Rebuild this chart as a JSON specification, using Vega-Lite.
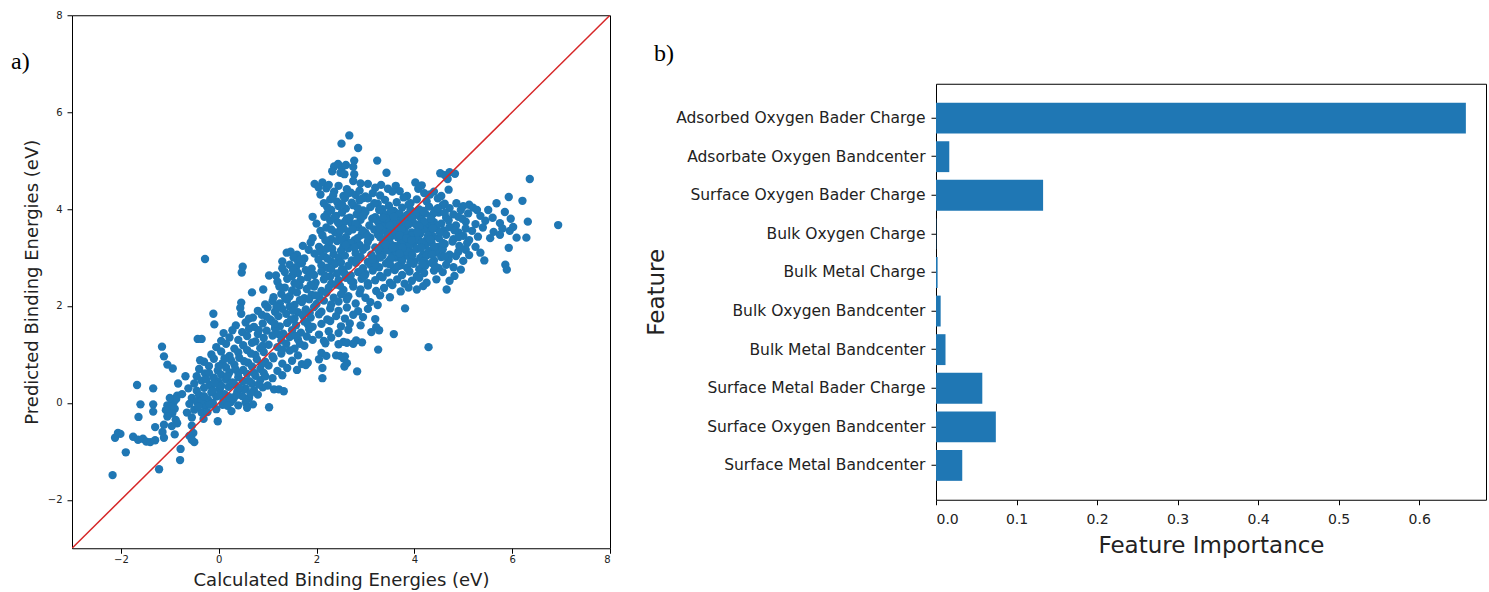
{
  "$schema": "https://vega.github.io/schema/vega-lite/v6.json",
  "padding": {"left": 10, "top": 9, "right": 0, "bottom": 0},
  "spacing": 33,
  "center": true,
  "config": {
    "font": "DejaVu Sans",
    "view": {"stroke": "#000", "strokeWidth": 1},
    "axis": {
      "domain": false,
      "grid": false,
      "tickColor": "#000",
      "tickWidth": 1,
      "labelColor": "#222",
      "titleColor": "#222",
      "titleFontWeight": "normal",
      "labelFont": "DejaVu Sans",
      "titleFont": "DejaVu Sans"
    },
    "title": {"font": "Liberation Serif", "fontSize": 24, "fontWeight": "normal", "color": "#000"}
  },
  "datasets": {
    "pts": [
      {"x":2.67,"y":5.52},{"x":2.51,"y":5.35},{"x":2.85,"y":5.26},{"x":2.77,"y":5.00},{"x":3.24,"y":5.00},
      {"x":2.36,"y":4.88},{"x":2.44,"y":4.93},{"x":2.52,"y":4.86},{"x":2.60,"y":4.91},{"x":2.75,"y":4.87},
      {"x":2.32,"y":4.78},{"x":2.49,"y":4.75},{"x":2.57,"y":4.72},{"x":2.77,"y":4.72},{"x":3.43,"y":4.75},{"x":4.53,"y":4.74},{"x":4.62,"y":4.70},{"x":4.72,"y":4.76},{"x":4.83,"y":4.73},
      {"x":2.75,"y":4.58},{"x":6.36,"y":4.62},{"x":4.68,"y":4.62},
      {"x":1.96,"y":4.52},{"x":2.04,"y":4.45},{"x":2.12,"y":4.55},{"x":2.20,"y":4.43},{"x":2.25,"y":4.50},{"x":2.45,"y":4.48},{"x":2.62,"y":4.41},{"x":2.90,"y":4.53},{"x":3.05,"y":4.52},{"x":3.20,"y":4.44},{"x":3.32,"y":4.50},{"x":3.46,"y":4.42},{"x":3.62,"y":4.48},{"x":4.02,"y":4.55},{"x":4.08,"y":4.42},{"x":4.15,"y":4.49},{"x":4.70,"y":4.40},
      {"x":2.08,"y":4.30},{"x":2.36,"y":4.36},{"x":2.55,"y":4.27},{"x":2.70,"y":4.34},{"x":2.80,"y":4.29},{"x":2.88,"y":4.38},{"x":3.00,"y":4.26},{"x":3.15,"y":4.33},{"x":3.30,"y":4.28},{"x":3.55,"y":4.36},{"x":3.70,"y":4.37},{"x":3.85,"y":4.27},{"x":4.20,"y":4.33},{"x":4.32,"y":4.30},{"x":4.40,"y":4.36},{"x":4.55,"y":4.27},{"x":5.93,"y":4.25},
      {"x":2.15,"y":4.12},{"x":2.28,"y":4.20},{"x":2.42,"y":4.15},{"x":2.58,"y":4.23},{"x":2.72,"y":4.13},{"x":2.88,"y":4.18},{"x":3.05,"y":4.22},{"x":3.25,"y":4.11},{"x":3.40,"y":4.19},{"x":3.64,"y":4.14},{"x":3.78,"y":4.24},{"x":3.92,"y":4.12},{"x":4.05,"y":4.20},{"x":4.25,"y":4.16},{"x":4.48,"y":4.22},{"x":4.62,"y":4.11},{"x":5.12,"y":4.09},{"x":5.68,"y":4.12},{"x":6.21,"y":4.17},
      {"x":2.30,"y":3.98},{"x":2.45,"y":4.06},{"x":2.60,"y":4.01},{"x":2.75,"y":4.08},{"x":2.95,"y":3.97},{"x":3.10,"y":4.04},{"x":3.35,"y":4.00},{"x":3.48,"y":4.07},{"x":3.58,"y":3.96},{"x":3.75,"y":4.03},{"x":3.88,"y":4.09},{"x":4.10,"y":3.99},{"x":4.30,"y":4.05},{"x":4.42,"y":3.97},{"x":4.58,"y":4.08},{"x":4.72,"y":4.02},{"x":4.95,"y":3.98},{"x":5.00,"y":4.06},{"x":5.20,"y":4.03},{"x":5.28,"y":3.98},{"x":5.51,"y":3.98},{"x":5.85,"y":3.94},
      {"x":1.92,"y":3.84},{"x":2.22,"y":3.91},{"x":2.40,"y":3.86},{"x":2.52,"y":3.93},{"x":2.68,"y":3.82},{"x":2.82,"y":3.89},{"x":3.00,"y":3.94},{"x":3.20,"y":3.83},{"x":3.38,"y":3.90},{"x":3.50,"y":3.85},{"x":3.62,"y":3.92},{"x":3.72,"y":3.81},{"x":3.85,"y":3.88},{"x":3.98,"y":3.94},{"x":4.12,"y":3.84},{"x":4.22,"y":3.91},{"x":4.35,"y":3.86},{"x":4.50,"y":3.93},{"x":4.65,"y":3.82},{"x":4.80,"y":3.89},{"x":4.90,"y":3.84},{"x":5.10,"y":3.91},{"x":5.35,"y":3.86},{"x":5.60,"y":3.82},{"x":5.97,"y":3.80},
      {"x":2.00,"y":3.70},{"x":2.28,"y":3.76},{"x":2.48,"y":3.67},{"x":2.58,"y":3.74},{"x":2.72,"y":3.69},{"x":2.90,"y":3.78},{"x":3.08,"y":3.66},{"x":3.30,"y":3.73},{"x":3.42,"y":3.68},{"x":3.55,"y":3.77},{"x":3.66,"y":3.71},{"x":3.78,"y":3.66},{"x":3.90,"y":3.75},{"x":4.02,"y":3.69},{"x":4.15,"y":3.78},{"x":4.28,"y":3.67},{"x":4.40,"y":3.73},{"x":4.55,"y":3.70},{"x":4.70,"y":3.77},{"x":4.85,"y":3.66},{"x":5.05,"y":3.74},{"x":5.25,"y":3.69},{"x":5.45,"y":3.76},{"x":5.75,"y":3.71},{"x":6.32,"y":3.74},{"x":6.94,"y":3.67},
      {"x":2.08,"y":3.55},{"x":2.20,"y":3.62},{"x":2.38,"y":3.52},{"x":2.55,"y":3.60},{"x":2.65,"y":3.54},{"x":2.85,"y":3.63},{"x":3.00,"y":3.51},{"x":3.18,"y":3.58},{"x":3.35,"y":3.64},{"x":3.45,"y":3.53},{"x":3.58,"y":3.60},{"x":3.70,"y":3.56},{"x":3.82,"y":3.63},{"x":3.95,"y":3.52},{"x":4.08,"y":3.59},{"x":4.20,"y":3.65},{"x":4.32,"y":3.54},{"x":4.45,"y":3.61},{"x":4.60,"y":3.56},{"x":4.72,"y":3.63},{"x":4.90,"y":3.52},{"x":5.05,"y":3.60},{"x":5.18,"y":3.55},{"x":5.40,"y":3.62},{"x":5.62,"y":3.53},{"x":5.80,"y":3.60},{"x":5.95,"y":3.55},{"x":6.02,"y":3.63},
      {"x":1.92,"y":3.40},{"x":2.12,"y":3.46},{"x":2.30,"y":3.38},{"x":2.45,"y":3.49},{"x":2.60,"y":3.42},{"x":2.78,"y":3.36},{"x":2.92,"y":3.47},{"x":3.10,"y":3.41},{"x":3.25,"y":3.48},{"x":3.40,"y":3.37},{"x":3.52,"y":3.44},{"x":3.62,"y":3.50},{"x":3.75,"y":3.39},{"x":3.88,"y":3.46},{"x":4.00,"y":3.41},{"x":4.12,"y":3.49},{"x":4.25,"y":3.36},{"x":4.38,"y":3.44},{"x":4.50,"y":3.40},{"x":4.65,"y":3.47},{"x":4.80,"y":3.38},{"x":5.00,"y":3.45},{"x":5.12,"y":3.36},{"x":5.30,"y":3.43},{"x":5.55,"y":3.40},{"x":5.75,"y":3.47},{"x":6.09,"y":3.41},{"x":6.29,"y":3.41},
      {"x":1.72,"y":3.24},{"x":1.88,"y":3.31},{"x":2.05,"y":3.22},{"x":2.25,"y":3.29},{"x":2.42,"y":3.34},{"x":2.55,"y":3.23},{"x":2.70,"y":3.30},{"x":2.88,"y":3.26},{"x":3.05,"y":3.33},{"x":3.20,"y":3.21},{"x":3.35,"y":3.28},{"x":3.48,"y":3.34},{"x":3.60,"y":3.24},{"x":3.72,"y":3.31},{"x":3.85,"y":3.22},{"x":3.98,"y":3.29},{"x":4.10,"y":3.35},{"x":4.22,"y":3.25},{"x":4.35,"y":3.31},{"x":4.48,"y":3.22},{"x":4.62,"y":3.28},{"x":4.78,"y":3.33},{"x":4.92,"y":3.24},{"x":5.08,"y":3.30},{"x":5.25,"y":3.22},{"x":5.93,"y":3.20},
      {"x":1.39,"y":3.10},{"x":1.47,"y":3.12},{"x":1.60,"y":3.06},{"x":1.84,"y":3.16},{"x":1.96,"y":3.08},{"x":2.08,"y":3.12},{"x":2.20,"y":3.18},{"x":2.35,"y":3.07},{"x":2.50,"y":3.14},{"x":2.65,"y":3.19},{"x":2.80,"y":3.09},{"x":2.95,"y":3.16},{"x":3.12,"y":3.06},{"x":3.28,"y":3.13},{"x":3.40,"y":3.19},{"x":3.55,"y":3.08},{"x":3.68,"y":3.15},{"x":3.80,"y":3.06},{"x":3.92,"y":3.12},{"x":4.05,"y":3.18},{"x":4.18,"y":3.07},{"x":4.30,"y":3.14},{"x":4.45,"y":3.10},{"x":4.58,"y":3.17},{"x":4.72,"y":3.06},{"x":4.90,"y":3.12},{"x":5.05,"y":3.16},{"x":5.12,"y":3.05},{"x":5.35,"y":3.10},
      {"x":-0.28,"y":2.97},{"x":1.53,"y":3.00},{"x":1.62,"y":2.93},{"x":1.75,"y":2.98},{"x":2.04,"y":2.96},{"x":2.15,"y":3.03},{"x":2.30,"y":2.92},{"x":2.45,"y":2.99},{"x":2.58,"y":3.04},{"x":2.72,"y":2.94},{"x":2.90,"y":3.01},{"x":3.05,"y":2.91},{"x":3.22,"y":2.98},{"x":3.35,"y":3.04},{"x":3.48,"y":2.93},{"x":3.62,"y":3.00},{"x":3.75,"y":2.95},{"x":3.88,"y":3.03},{"x":4.00,"y":2.92},{"x":4.12,"y":2.99},{"x":4.25,"y":3.04},{"x":4.40,"y":2.94},{"x":4.55,"y":3.01},{"x":4.70,"y":2.96},{"x":4.85,"y":3.03},{"x":5.00,"y":2.93},{"x":5.43,"y":2.94},
      {"x":0.49,"y":2.81},{"x":1.30,"y":2.78},{"x":1.45,"y":2.85},{"x":1.58,"y":2.80},{"x":1.70,"y":2.88},{"x":1.90,"y":2.77},{"x":2.10,"y":2.84},{"x":2.22,"y":2.79},{"x":2.38,"y":2.87},{"x":2.52,"y":2.76},{"x":2.65,"y":2.83},{"x":2.80,"y":2.89},{"x":2.95,"y":2.78},{"x":3.10,"y":2.85},{"x":3.28,"y":2.80},{"x":3.42,"y":2.88},{"x":3.58,"y":2.77},{"x":3.72,"y":2.84},{"x":3.85,"y":2.79},{"x":3.98,"y":2.87},{"x":4.10,"y":2.76},{"x":4.22,"y":2.83},{"x":4.35,"y":2.89},{"x":4.50,"y":2.78},{"x":4.65,"y":2.85},{"x":4.80,"y":2.80},{"x":5.86,"y":2.85},{"x":5.89,"y":2.75},
      {"x":0.47,"y":2.69},{"x":1.03,"y":2.63},{"x":1.17,"y":2.63},{"x":1.35,"y":2.70},{"x":1.50,"y":2.62},{"x":1.62,"y":2.68},{"x":1.78,"y":2.74},{"x":1.95,"y":2.64},{"x":2.10,"y":2.71},{"x":2.28,"y":2.61},{"x":2.42,"y":2.67},{"x":2.55,"y":2.73},{"x":2.70,"y":2.63},{"x":2.85,"y":2.70},{"x":3.00,"y":2.66},{"x":3.15,"y":2.73},{"x":3.30,"y":2.62},{"x":3.45,"y":2.69},{"x":3.60,"y":2.74},{"x":3.75,"y":2.64},{"x":3.90,"y":2.71},{"x":4.05,"y":2.62},{"x":4.20,"y":2.68},{"x":4.40,"y":2.73},{"x":4.95,"y":2.75},
      {"x":1.20,"y":2.50},{"x":1.40,"y":2.56},{"x":1.55,"y":2.47},{"x":1.68,"y":2.54},{"x":1.82,"y":2.59},{"x":1.98,"y":2.48},{"x":2.15,"y":2.55},{"x":2.30,"y":2.46},{"x":2.45,"y":2.53},{"x":2.60,"y":2.58},{"x":2.75,"y":2.49},{"x":2.92,"y":2.56},{"x":3.05,"y":2.47},{"x":3.20,"y":2.53},{"x":3.35,"y":2.59},{"x":3.50,"y":2.48},{"x":3.65,"y":2.55},{"x":3.80,"y":2.46},{"x":3.95,"y":2.52},{"x":4.10,"y":2.58},{"x":4.25,"y":2.48},{"x":4.45,"y":2.55},{"x":4.72,"y":2.52},
      {"x":0.68,"y":2.28},{"x":0.91,"y":2.34},{"x":1.35,"y":2.38},{"x":1.50,"y":2.32},{"x":1.65,"y":2.42},{"x":1.80,"y":2.35},{"x":1.95,"y":2.40},{"x":2.10,"y":2.31},{"x":2.25,"y":2.38},{"x":2.40,"y":2.44},{"x":2.55,"y":2.33},{"x":2.75,"y":2.40},{"x":2.90,"y":2.34},{"x":3.05,"y":2.42},{"x":3.22,"y":2.31},{"x":3.38,"y":2.37},{"x":3.55,"y":2.43},{"x":3.72,"y":2.30},{"x":3.88,"y":2.38},{"x":4.05,"y":2.34},{"x":4.18,"y":2.41},{"x":4.66,"y":2.34},
      {"x":1.12,"y":2.18},{"x":1.28,"y":2.25},{"x":1.45,"y":2.20},{"x":1.60,"y":2.28},{"x":1.75,"y":2.16},{"x":1.90,"y":2.23},{"x":2.05,"y":2.19},{"x":2.20,"y":2.27},{"x":2.35,"y":2.17},{"x":2.50,"y":2.24},{"x":2.65,"y":2.20},{"x":2.88,"y":2.26},{"x":3.00,"y":2.17},{"x":3.30,"y":2.22},{"x":3.50,"y":2.18},
      {"x":0.46,"y":2.07},{"x":0.95,"y":2.03},{"x":1.10,"y":2.10},{"x":1.25,"y":2.05},{"x":1.40,"y":2.13},{"x":1.55,"y":2.02},{"x":1.70,"y":2.08},{"x":1.85,"y":2.14},{"x":2.00,"y":2.04},{"x":2.15,"y":2.11},{"x":2.30,"y":2.03},{"x":2.45,"y":2.09},{"x":2.62,"y":2.14},{"x":2.80,"y":2.05},{"x":3.10,"y":2.08},{"x":3.25,"y":2.02},
      {"x":0.44,"y":1.96},{"x":0.80,"y":1.90},{"x":1.00,"y":1.97},{"x":1.15,"y":1.88},{"x":1.30,"y":1.94},{"x":1.45,"y":1.99},{"x":1.62,"y":1.87},{"x":1.78,"y":1.93},{"x":1.95,"y":1.98},{"x":2.10,"y":1.88},{"x":2.28,"y":1.95},{"x":2.45,"y":1.90},{"x":2.62,"y":1.97},{"x":2.85,"y":1.89},{"x":3.05,"y":1.94},{"x":3.81,"y":1.95},
      {"x":-0.11,"y":1.84},{"x":0.46,"y":1.84},{"x":0.70,"y":1.76},{"x":0.88,"y":1.82},{"x":1.05,"y":1.72},{"x":1.22,"y":1.79},{"x":1.38,"y":1.84},{"x":1.55,"y":1.74},{"x":1.72,"y":1.81},{"x":1.88,"y":1.76},{"x":2.05,"y":1.83},{"x":2.22,"y":1.72},{"x":2.40,"y":1.79},{"x":2.58,"y":1.74},{"x":2.75,"y":1.82},{"x":2.95,"y":1.77},{"x":3.20,"y":1.73},
      {"x":-0.09,"y":1.62},{"x":0.35,"y":1.60},{"x":0.55,"y":1.66},{"x":0.72,"y":1.57},{"x":0.90,"y":1.64},{"x":1.08,"y":1.69},{"x":1.25,"y":1.58},{"x":1.40,"y":1.65},{"x":1.58,"y":1.60},{"x":1.75,"y":1.68},{"x":1.92,"y":1.57},{"x":2.10,"y":1.63},{"x":2.28,"y":1.69},{"x":2.50,"y":1.58},{"x":2.68,"y":1.64},{"x":2.90,"y":1.60},{"x":3.22,"y":1.56},
      {"x":0.10,"y":1.44},{"x":0.28,"y":1.50},{"x":0.48,"y":1.46},{"x":0.62,"y":1.53},{"x":0.80,"y":1.42},{"x":0.98,"y":1.49},{"x":1.15,"y":1.54},{"x":1.32,"y":1.43},{"x":1.50,"y":1.50},{"x":1.68,"y":1.45},{"x":1.85,"y":1.52},{"x":2.05,"y":1.41},{"x":2.25,"y":1.48},{"x":2.45,"y":1.44},{"x":2.65,"y":1.51},{"x":3.12,"y":1.46},{"x":3.28,"y":1.50},{"x":3.58,"y":1.42},
      {"x":-0.43,"y":1.32},{"x":-0.35,"y":1.32},{"x":0.05,"y":1.28},{"x":0.22,"y":1.35},{"x":0.40,"y":1.30},{"x":0.58,"y":1.38},{"x":0.75,"y":1.27},{"x":0.92,"y":1.34},{"x":1.10,"y":1.39},{"x":1.28,"y":1.29},{"x":1.45,"y":1.36},{"x":1.62,"y":1.31},{"x":1.80,"y":1.37},{"x":2.15,"y":1.28},{"x":2.30,"y":1.35},{"x":2.55,"y":1.26},{"x":2.81,"y":1.29},{"x":2.93,"y":1.25},
      {"x":-1.16,"y":1.16},{"x":-0.05,"y":1.15},{"x":0.15,"y":1.22},{"x":0.32,"y":1.12},{"x":0.50,"y":1.19},{"x":0.68,"y":1.24},{"x":0.85,"y":1.13},{"x":1.02,"y":1.20},{"x":1.20,"y":1.15},{"x":1.38,"y":1.22},{"x":1.55,"y":1.12},{"x":1.75,"y":1.18},{"x":2.18,"y":1.23},{"x":2.45,"y":1.21},{"x":2.62,"y":1.24},{"x":2.75,"y":1.22},{"x":3.26,"y":1.10},{"x":4.29,"y":1.15},
      {"x":-1.12,"y":0.96},{"x":-0.15,"y":1.00},{"x":0.05,"y":1.06},{"x":0.22,"y":0.97},{"x":0.40,"y":1.04},{"x":0.58,"y":1.09},{"x":0.75,"y":0.99},{"x":0.92,"y":1.05},{"x":1.10,"y":0.96},{"x":1.28,"y":1.02},{"x":1.45,"y":1.08},{"x":1.62,"y":0.98},{"x":2.10,"y":1.03},{"x":2.20,"y":0.97},{"x":2.40,"y":0.98},{"x":2.58,"y":0.96},
      {"x":-0.30,"y":0.85},{"x":-0.10,"y":0.91},{"x":0.08,"y":0.82},{"x":0.25,"y":0.88},{"x":0.42,"y":0.93},{"x":0.60,"y":0.83},{"x":0.78,"y":0.90},{"x":0.95,"y":0.85},{"x":1.12,"y":0.92},{"x":1.30,"y":0.81},{"x":1.50,"y":0.87},{"x":1.70,"y":0.80},{"x":1.82,"y":0.83},{"x":2.05,"y":0.90},{"x":2.48,"y":0.97},{"x":2.55,"y":0.92},{"x":2.62,"y":0.82},
      {"x":-1.05,"y":0.79},{"x":-0.94,"y":0.71},{"x":-0.40,"y":0.70},{"x":-0.20,"y":0.76},{"x":-0.02,"y":0.67},{"x":0.15,"y":0.73},{"x":0.32,"y":0.79},{"x":0.50,"y":0.68},{"x":0.68,"y":0.75},{"x":0.85,"y":0.70},{"x":1.02,"y":0.77},{"x":1.20,"y":0.66},{"x":1.40,"y":0.72},{"x":1.60,"y":0.68},{"x":1.78,"y":0.78},{"x":2.12,"y":0.72},{"x":2.57,"y":0.75},{"x":2.83,"y":0.65},
      {"x":-0.45,"y":0.55},{"x":-0.28,"y":0.61},{"x":-0.10,"y":0.52},{"x":0.05,"y":0.58},{"x":0.22,"y":0.63},{"x":0.40,"y":0.53},{"x":0.58,"y":0.60},{"x":0.75,"y":0.56},{"x":0.92,"y":0.62},{"x":1.10,"y":0.51},{"x":1.30,"y":0.57},{"x":2.12,"y":0.51},
      {"x":-1.67,"y":0.37},{"x":-1.34,"y":0.30},{"x":-0.83,"y":0.40},{"x":-0.50,"y":0.40},{"x":-0.35,"y":0.46},{"x":-0.18,"y":0.37},{"x":0.00,"y":0.43},{"x":0.15,"y":0.48},{"x":0.32,"y":0.38},{"x":0.50,"y":0.45},{"x":0.68,"y":0.40},{"x":0.85,"y":0.47},{"x":1.00,"y":0.36},
      {"x":-0.45,"y":0.25},{"x":-0.30,"y":0.31},{"x":-0.15,"y":0.22},{"x":0.02,"y":0.28},{"x":0.20,"y":0.33},{"x":0.38,"y":0.23},{"x":0.55,"y":0.30},{"x":0.72,"y":0.26},{"x":0.90,"y":0.32},{"x":1.13,"y":0.28},{"x":1.23,"y":0.28},{"x":1.33,"y":0.24},
      {"x":-0.85,"y":0.15},{"x":-0.55,"y":0.10},{"x":-0.40,"y":0.16},{"x":-0.22,"y":0.07},{"x":-0.05,"y":0.13},{"x":0.12,"y":0.18},{"x":0.30,"y":0.08},{"x":0.48,"y":0.14},{"x":0.62,"y":0.10},{"x":0.80,"y":0.17},
      {"x":-1.60,"y":-0.03},{"x":-1.34,"y":-0.03},{"x":-1.05,"y":-0.05},{"x":-0.92,"y":0.02},{"x":-0.60,"y":-0.02},{"x":-0.45,"y":0.03},{"x":-0.28,"y":-0.06},{"x":-0.12,"y":0.00},{"x":0.08,"y":-0.04},{"x":0.25,"y":0.02},{"x":0.40,"y":-0.05},{"x":0.55,"y":0.01},{"x":0.70,"y":-0.03},{"x":1.03,"y":-0.09},
      {"x":-0.98,"y":-0.08},{"x":-0.87,"y":0.08},{"x":-1.00,"y":0.10},{"x":-0.90,"y":-0.12},
      {"x":-1.34,"y":-0.18},{"x":-1.08,"y":-0.15},{"x":-0.95,"y":-0.22},{"x":-0.50,"y":-0.14},{"x":-0.35,"y":-0.20},{"x":-0.23,"y":-0.19},{"x":-0.05,"y":-0.13},{"x":0.26,"y":-0.17},
      {"x":-1.64,"y":-0.29},{"x":-1.05,"y":-0.28},{"x":-0.88,"y":-0.35},{"x":-0.55,"y":-0.30},{"x":-0.31,"y":-0.33},{"x":-0.02,"y":-0.38},
      {"x":-1.30,"y":-0.50},{"x":-1.12,"y":-0.45},{"x":-0.96,"y":-0.48},{"x":-0.85,"y":-0.42},{"x":-0.55,"y":-0.47},
      {"x":-2.01,"y":-0.64},{"x":-2.06,"y":-0.62},{"x":-1.15,"y":-0.60},{"x":-0.90,"y":-0.65},{"x":-0.52,"y":-0.62},{"x":-0.60,"y":-0.68},
      {"x":-2.12,"y":-0.72},{"x":-1.75,"y":-0.70},{"x":-1.65,"y":-0.76},{"x":-1.55,"y":-0.74},{"x":-1.48,"y":-0.80},{"x":-1.40,"y":-0.81},{"x":-1.30,"y":-0.77},{"x":-1.12,"y":-0.72},{"x":-0.50,"y":-0.81},{"x":-0.55,"y":-0.76},
      {"x":-1.90,"y":-1.02},{"x":-0.78,"y":-0.95},{"x":-0.79,"y":-1.18},{"x":-1.22,"y":-1.37},{"x":-2.17,"y":-1.49},
      {"x":3.42,"y":3.80},{"x":3.56,"y":3.70},{"x":3.68,"y":3.62},{"x":3.80,"y":3.52},{"x":3.94,"y":3.45},{"x":3.50,"y":3.30},{"x":3.66,"y":3.42},{"x":3.78,"y":3.33},{"x":3.90,"y":3.25},{"x":4.05,"y":3.38},{"x":4.18,"y":3.58},{"x":4.02,"y":3.88},{"x":3.62,"y":3.05},{"x":3.74,"y":2.92},{"x":3.86,"y":3.12},{"x":3.45,"y":3.15},{"x":4.15,"y":3.30},{"x":4.28,"y":3.45},{"x":3.35,"y":3.55},{"x":3.25,"y":3.75},
      {"x":0.05,"y":0.35},{"x":0.18,"y":0.55},{"x":0.28,"y":0.42},{"x":-0.12,"y":0.25},{"x":-0.25,"y":0.48},{"x":0.40,"y":0.62},{"x":0.52,"y":0.28},{"x":0.62,"y":0.45},{"x":0.10,"y":0.05},{"x":-0.35,"y":0.05},
      {"x":3.28,"y":3.98},{"x":3.52,"y":3.95},{"x":3.70,"y":3.90},{"x":3.92,"y":3.98},{"x":4.18,"y":3.96},{"x":4.40,"y":3.92},
      {"x":3.36,"y":3.82},{"x":3.58,"y":3.84},{"x":3.78,"y":3.78},{"x":3.96,"y":3.80},{"x":4.20,"y":3.74},{"x":4.34,"y":3.80},
      {"x":3.28,"y":3.62},{"x":3.50,"y":3.66},{"x":3.74,"y":3.58},{"x":3.88,"y":3.68},{"x":4.10,"y":3.64},{"x":4.38,"y":3.60},
      {"x":3.30,"y":3.42},{"x":3.46,"y":3.46},{"x":3.70,"y":3.46},{"x":3.84,"y":3.40},{"x":4.06,"y":3.52},{"x":4.32,"y":3.38},
      {"x":3.26,"y":3.18},{"x":3.42,"y":3.26},{"x":3.56,"y":3.20},{"x":3.76,"y":3.20},{"x":3.94,"y":3.36},{"x":4.14,"y":3.20},{"x":4.40,"y":3.22},
      {"x":3.30,"y":3.00},{"x":3.52,"y":2.98},{"x":3.70,"y":3.08},{"x":3.96,"y":3.05},{"x":4.20,"y":2.92},{"x":4.36,"y":3.06},
      {"x":3.20,"y":2.86},{"x":3.50,"y":2.86},{"x":3.66,"y":2.82},{"x":3.92,"y":2.90},{"x":4.16,"y":2.88},{"x":4.42,"y":2.82},
      {"x":2.34,"y":4.28},{"x":2.64,"y":4.32},{"x":2.94,"y":4.22},{"x":2.22,"y":4.04},{"x":2.52,"y":4.10},{"x":2.84,"y":4.02},{"x":3.18,"y":4.12},
      {"x":2.36,"y":3.82},{"x":2.62,"y":3.80},{"x":2.96,"y":3.86},{"x":2.16,"y":3.84},{"x":2.44,"y":3.72},{"x":2.80,"y":3.70},{"x":3.14,"y":3.80},
      {"x":2.30,"y":3.58},{"x":2.48,"y":3.55},{"x":2.74,"y":3.58},{"x":2.94,"y":3.56},{"x":2.18,"y":3.36},{"x":2.52,"y":3.36},{"x":2.84,"y":3.40},{"x":3.04,"y":3.45},
      {"x":2.32,"y":3.18},{"x":2.60,"y":3.26},{"x":2.78,"y":3.20},{"x":3.02,"y":3.22},{"x":2.22,"y":2.98},{"x":2.50,"y":2.90},{"x":2.82,"y":2.96},{"x":3.14,"y":2.96},
      {"x":2.30,"y":2.76},{"x":2.58,"y":2.66},{"x":2.90,"y":2.72},{"x":2.18,"y":2.62},{"x":2.48,"y":2.42},{"x":2.70,"y":2.52},{"x":2.98,"y":2.62},
      {"x":1.30,"y":2.92},{"x":1.68,"y":2.96},{"x":1.52,"y":2.74},{"x":1.88,"y":2.66},{"x":1.24,"y":2.40},{"x":1.58,"y":2.46},{"x":1.88,"y":2.44},
      {"x":1.36,"y":2.16},{"x":1.66,"y":2.12},{"x":1.98,"y":2.22},{"x":1.18,"y":1.98},{"x":1.52,"y":1.90},{"x":1.86,"y":1.86},
      {"x":1.14,"y":1.64},{"x":1.48,"y":1.72},{"x":1.82,"y":1.62},{"x":1.22,"y":1.42},{"x":1.58,"y":1.38},{"x":1.92,"y":1.30},{"x":1.30,"y":1.10},{"x":1.66,"y":1.22},
      {"x":0.98,"y":1.78},{"x":0.82,"y":1.50},{"x":0.62,"y":1.74},{"x":0.90,"y":1.18},{"x":0.66,"y":1.02},
      {"x":-0.38,"y":0.88},{"x":-0.20,"y":0.62},{"x":0.00,"y":0.76},{"x":0.12,"y":0.92},{"x":0.34,"y":0.70},{"x":0.52,"y":0.86},{"x":0.72,"y":0.62},{"x":0.88,"y":0.80},
      {"x":-0.30,"y":0.14},{"x":-0.08,"y":0.40},{"x":0.22,"y":0.12},{"x":0.42,"y":0.32},{"x":0.65,"y":0.20},{"x":0.82,"y":0.38},{"x":0.95,"y":0.55},
      {"x":-0.42,"y":-0.08},{"x":-0.18,"y":-0.04},{"x":0.00,"y":0.15},{"x":0.18,"y":-0.06},{"x":0.35,"y":0.15},{"x":0.58,"y":-0.10},
      {"x":-0.62,"y":0.30},{"x":-0.68,"y":0.55},{"x":-0.75,"y":0.18},{"x":-0.65,"y":-0.20},
      {"x":4.48,"y":4.02},{"x":4.86,"y":4.12},{"x":4.62,"y":3.92},{"x":4.98,"y":3.80},{"x":4.52,"y":3.52},{"x":4.82,"y":3.56},{"x":4.58,"y":3.30},{"x":4.90,"y":3.42},{"x":4.62,"y":3.02},{"x":4.94,"y":3.20},{"x":4.58,"y":2.70},{"x":4.82,"y":2.62}
    ],
    "imp": [
      {"feature": "Adsorbed Oxygen Bader Charge", "importance": 0.658},
      {"feature": "Adsorbate Oxygen Bandcenter", "importance": 0.0165},
      {"feature": "Surface Oxygen Bader Charge", "importance": 0.133},
      {"feature": "Bulk Oxygen Charge", "importance": 0.0004},
      {"feature": "Bulk Metal Charge", "importance": 0.002},
      {"feature": "Bulk Oxygen Bandcenter", "importance": 0.0058},
      {"feature": "Bulk Metal Bandcenter", "importance": 0.0118},
      {"feature": "Surface Metal Bader Charge", "importance": 0.0575},
      {"feature": "Surface Oxygen Bandcenter", "importance": 0.0743},
      {"feature": "Surface Metal Bandcenter", "importance": 0.0326}
    ]
  },
  "hconcat": [
    {
      "width": 538,
      "height": 533,
      "title": {"text": "a)", "anchor": "start", "frame": "group", "orient": "top", "align": "left", "baseline": "alphabetic", "offset": 0, "dx": -61, "dy": 83},
      "layer": [
        {
          "data": {"name": "pts"},
          "mark": {"type": "circle", "size": 70, "color": "#1f77b4", "opacity": 1},
          "encoding": {
            "x": {"field": "x", "type": "quantitative", "scale": {"domain": [-3, 8], "nice": false, "zero": false},
                  "axis": {"values": [-2, 0, 2, 4, 6, 8], "title": ["Calculated Binding Energies (eV)", ""], "titleLineHeight": 37, "labelFontSize": 10, "titleFontSize": 18, "tickSize": 5, "labelPadding": 1, "titlePadding": 7}},
            "y": {"field": "y", "type": "quantitative", "scale": {"domain": [-3, 8], "nice": false, "zero": false},
                  "axis": {"values": [-2, 0, 2, 4, 6, 8], "title": "Predicted Binding Energies (eV)", "labelFontSize": 10, "titleFontSize": 18, "tickSize": 5, "labelPadding": 5, "titlePadding": 6}}
          }
        },
        {
          "data": {"values": [{"x": -3, "y": -3}, {"x": 8, "y": 8}]},
          "mark": {"type": "line", "color": "#d62728", "strokeWidth": 1.5, "clip": true},
          "encoding": {
            "x": {"field": "x", "type": "quantitative"},
            "y": {"field": "y", "type": "quantitative"}
          }
        }
      ]
    },
    {
      "width": 550,
      "height": 416,
      "title": {"text": "b)", "anchor": "start", "frame": "group", "orient": "top", "align": "left", "baseline": "alphabetic", "offset": 0, "dx": -282, "dy": 1},
      "data": {"name": "imp"},
      "mark": {"type": "bar", "color": "#1f77b4"},
      "encoding": {
        "y": {"field": "feature", "type": "nominal", "sort": null,
              "scale": {"paddingInner": 0.2, "paddingOuter": 0.49},
              "axis": {"title": "Feature", "titleFontSize": 23, "labelFontSize": 15.5, "labelLimit": 400, "tickSize": 5, "labelPadding": 6, "titlePadding": 68}},
        "x": {"field": "importance", "type": "quantitative", "scale": {"domain": [0, 0.683], "nice": false, "zero": true},
              "axis": {"values": [0, 0.1, 0.2, 0.3, 0.4, 0.5, 0.6], "format": ".1f", "title": "Feature Importance", "titleFontSize": 23, "labelFontSize": 14, "tickSize": 5, "labelPadding": 8, "titlePadding": 8}}
      }
    }
  ]
}
